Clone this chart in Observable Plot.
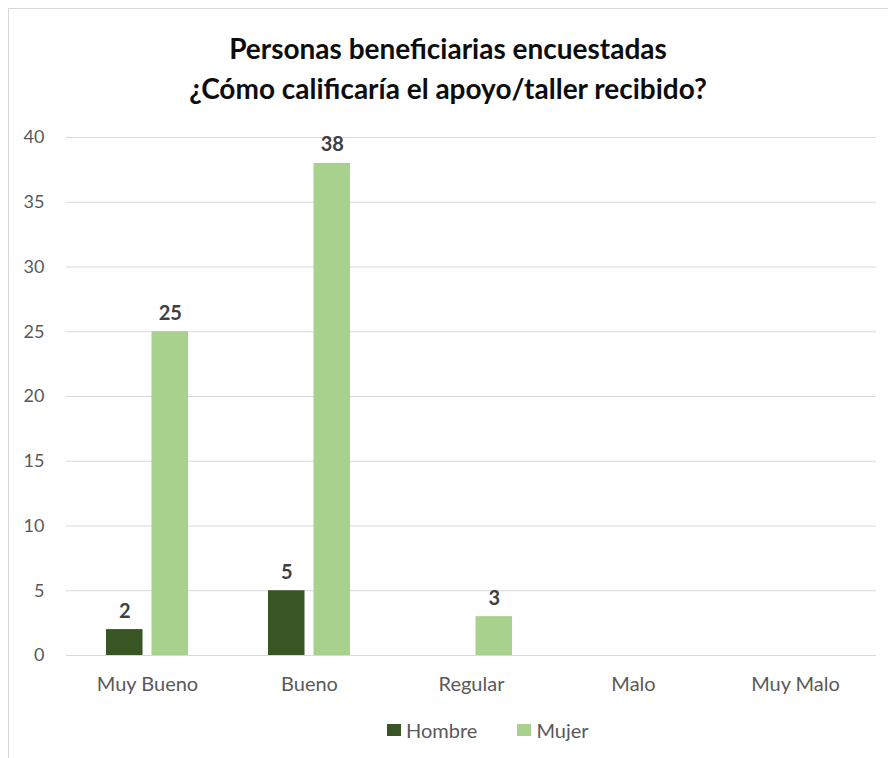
<!DOCTYPE html>
<html>
<head>
<meta charset="utf-8">
<script src="https://cdn.jsdelivr.net/npm/d3@7"></script>
<script src="https://cdn.jsdelivr.net/npm/@observablehq/plot@0.6"></script>
<style>
  body { margin: 0; background: #fff; font-family: Lato, "Open Sans", sans-serif; }
  #frame { position: absolute; left: 8px; top: 8px; width: 900px; height: 780px; border: 1px solid #d9d9d9; box-sizing: border-box; }
  #title { position: absolute; left: 0; top: 0; width: 896px; text-align: center; padding-top: 28px;
           font-weight: bold; font-size: 28px; line-height: 40px; color: #0d0d0d; }
  #chart { position: absolute; left: 0; top: 117px; }
  #legend { position: absolute; left: 387px; top: 718px; display: flex; gap: 40px;
            font-size: 20px; line-height: 24px; color: #595959; }
  .item { display: flex; align-items: center; gap: 5px; }
  .sw { width: 14px; height: 12px; display: inline-block; }
</style>
</head>
<body>
<div id="frame"></div>
<div id="title">Personas beneficiarias encuestadas<br>¿Cómo calificaría el apoyo/taller recibido?</div>
<div id="chart"></div>
<div id="legend"></div>
<script>
const categories = ["Muy Bueno", "Bueno", "Regular", "Malo", "Muy Malo"];
const series = ["Hombre", "Mujer"];
const hombre = [2, 5, null, null, null];
const mujer = [25, 38, 3, null, null];
const yTicks = [0, 5, 10, 15, 20, 25, 30, 35, 40];
const colors = ["#375623", "#a9d18e"];

const hData = categories.map((c, i) => ({cat: c, value: hombre[i]})).filter(d => d.value != null);
const mData = categories.map((c, i) => ({cat: c, value: mujer[i]})).filter(d => d.value != null);

const inset = 45.5;
const off = 22.75;

const plot = Plot.plot({
  width: 888,
  height: 600,
  marginLeft: 66,
  marginRight: 12,
  marginTop: 20,
  marginBottom: 62,
  style: {fontFamily: "Lato, 'Open Sans', sans-serif", fontSize: "18px", color: "#595959", background: "transparent"},
  x: {domain: categories, paddingInner: 0.494, paddingOuter: 0.247, tickSize: 0, tickPadding: 21, label: null},
  y: {domain: [0, 40], ticks: yTicks, tickSize: 0, tickPadding: 22, label: null},
  marks: [
    Plot.ruleY(yTicks, {stroke: "#d9d9d9", strokeWidth: 1}),
    Plot.barY(hData, {x: "cat", y: "value", fill: colors[0], insetRight: inset}),
    Plot.barY(mData, {x: "cat", y: "value", fill: colors[1], insetLeft: inset}),
    Plot.text(hData, {x: "cat", y: "value", text: d => String(d.value), dx: -off, dy: -12, lineAnchor: "bottom",
      fill: "#404040", fontWeight: "bold", fontSize: 20}),
    Plot.text(mData, {x: "cat", y: "value", text: d => String(d.value), dx: off, dy: -12, lineAnchor: "bottom",
      fill: "#404040", fontWeight: "bold", fontSize: 20})
  ]
});
plot.querySelectorAll('[aria-label="x-axis tick label"] text, g[aria-label="x-axis"] text').forEach(t => t.setAttribute("font-size", "20"));
document.getElementById("chart").appendChild(plot);

const legend = document.getElementById("legend");
series.forEach((s, i) => {
  const it = document.createElement("div");
  it.className = "item";
  it.innerHTML = `<span class="sw" style="background:${colors[i]}"></span><span>${s}</span>`;
  legend.appendChild(it);
});
</script>
</body>
</html>
